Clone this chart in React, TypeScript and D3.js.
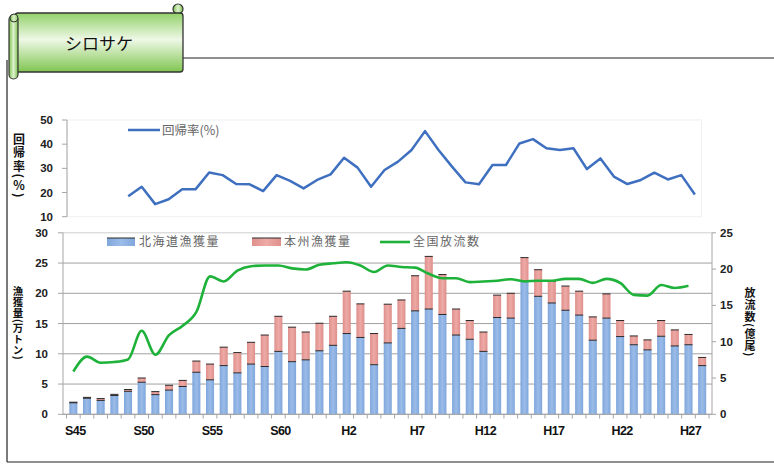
import React from "react";
import * as d3 from "d3";

// Fiscal years on the category axis (S45 = 1970 … H28 = 2016)
const years = [
  1970, 1971, 1972, 1973, 1974, 1975, 1976, 1977, 1978, 1979,
  1980, 1981, 1982, 1983, 1984, 1985, 1986, 1987, 1988, 1989,
  1990, 1991, 1992, 1993, 1994, 1995, 1996, 1997, 1998, 1999,
  2000, 2001, 2002, 2003, 2004, 2005, 2006, 2007, 2008, 2009,
  2010, 2011, 2012, 2013, 2014, 2015, 2016,
];
const tickYears = [1970, 1975, 1980, 1985, 1990, 1995, 2000, 2005, 2010, 2015];
const tickLabels = ["S45", "S50", "S55", "S60", "H2", "H7", "H12", "H17", "H22", "H27"];

// 北海道漁獲量 (万トン)
const hokkaido = [
  1.9, 2.65, 2.3, 3.1, 3.8, 5.3, 3.25, 4.0, 4.6, 6.95,
  5.7, 8.05, 6.85, 8.3, 7.9, 10.4, 8.7, 9.0, 10.5, 11.4,
  13.35, 12.7, 8.2, 11.8, 14.2, 17.1, 17.4, 16.5, 13.1, 12.4,
  10.4, 16.0, 15.9, 22.0, 19.5, 18.4, 17.2, 16.4, 12.25, 15.9,
  12.85, 11.5, 10.65, 12.9, 11.3, 11.5, 8.05,
];
// 本州漁獲量 (万トン)
const honshu = [
  0.1, 0.15, 0.3, 0.2, 0.3, 0.7, 0.5, 0.8, 1.0, 1.85,
  2.6, 3.05, 3.35, 3.6, 5.2, 5.8, 5.7, 4.6, 4.55, 4.8,
  7.0, 5.55, 5.15, 6.4, 4.7, 5.8, 8.7, 6.6, 4.3, 3.1,
  3.2, 3.7, 4.1, 3.9, 4.4, 3.6, 4.0, 3.95, 3.85, 4.0,
  2.65, 1.45, 1.65, 2.6, 2.65, 1.7, 1.35,
];
// 全国放流数 (億尾), 1970–2015
const release = [
  5.9, 7.95, 7.1, 7.2, 7.55, 11.5, 8.2, 10.9, 12.2, 14.1,
  19.0, 18.3, 19.8, 20.4, 20.5, 20.5, 20.1, 19.95, 20.6, 20.8,
  20.95, 20.5, 19.6, 20.5, 20.3, 20.2, 19.35, 18.75, 18.75, 18.2,
  18.3, 18.4, 18.6, 18.3, 18.4, 18.4, 18.65, 18.65, 18.1, 18.65,
  18.1, 16.45, 16.35, 17.8, 17.4, 17.7,
];
// 回帰率 (%), 1974–2016
const returnYears = [
  1974, 1975, 1976, 1977, 1978, 1979, 1980, 1981, 1982, 1983,
  1984, 1985, 1986, 1987, 1988, 1989, 1990, 1991, 1992, 1993,
  1994, 1995, 1996, 1997, 1998, 1999, 2000, 2001, 2002, 2003,
  2004, 2005, 2006, 2007, 2008, 2009, 2010, 2011, 2012, 2013,
  2014, 2015, 2016,
];
const returnRate = [
  18.5, 22.4, 15.2, 17.2, 21.4, 21.4, 28.3, 27.2, 23.5, 23.4,
  20.6, 27.2, 24.8, 21.7, 25.2, 27.5, 34.4, 30.3, 22.4, 29.3,
  32.8, 37.6, 45.4, 37.6, 30.7, 24.2, 23.4, 31.4, 31.4, 40.3,
  42.1, 38.3, 37.6, 38.3, 29.7, 34.1, 26.6, 23.5, 25.2, 28.2,
  25.4, 27.2, 19.2,
];
const leftTicks = [0, 5, 10, 15, 20, 25, 30];
const rightTicks = [0, 5, 10, 15, 20, 25];
const topTicks = [10, 20, 30, 40, 50];

const W = 774;
const H = 466;
const JP = "'Noto Sans CJK JP', 'Noto Sans', sans-serif";
const NUM = "'Liberation Sans', Arial, sans-serif";
const AXIS = "#a6a6a6";
const BLUE_LINE = "#3f70c0";
const GREEN = "#1fb23a";

// Vertical (top-to-bottom) axis title
function VerticalTitle({
  label,
  x,
  top,
  size,
  spacing,
}: {
  label: string;
  x: number;
  top: number;
  size: number;
  spacing: number;
}) {
  return (
    <text
      x={x}
      y={top}
      textAnchor="start"
      fontFamily={JP}
      fontWeight="bold"
      fontSize={size}
      fill="#111"
      style={{ writingMode: "vertical-rl", letterSpacing: `${spacing}px` }}
    >
      {label}
    </text>
  );
}

export default function App() {
  // lower chart scales
  const x = d3.scaleBand<number>().domain(years).range([66.5, 709]).paddingInner(0.41).paddingOuter(0.205);
  const yL = d3.scaleLinear().domain([0, 30]).range([414.3, 232.8]);
  const yR = d3.scaleLinear().domain([0, 25]).range([414.3, 232.8]);
  // upper chart scales
  const xT = d3.scaleBand<number>().domain(years).range([67.5, 701.6]);
  const yT = d3.scaleLinear().domain([10, 50]).range([216.7, 120]);

  const cx = (yr: number) => (x(yr) ?? 0) + x.bandwidth() / 2;
  const cxT = (yr: number) => (xT(yr) ?? 0) + xT.bandwidth() / 2;

  const releaseLine = d3
    .line<number>()
    .x((_, i) => cx(years[i]))
    .y((d) => yR(d))
    .curve(d3.curveMonotoneX)(release) ?? "";
  const returnLine = d3
    .line<number>()
    .x((_, i) => cxT(returnYears[i]))
    .y((d) => yT(d))(returnRate) ?? "";

  const xL = 63;
  const xRgt = 712;
  const boundaries = d3.range(years.length + 1).map((i) => x.range()[0] + i * x.step());

  return (
    <svg
      width={W}
      height={H}
      viewBox={`0 0 ${W} ${H}`}
      style={{ position: "absolute", left: 0, top: 0, background: "#fff" }}
    >
      <defs>
        <linearGradient id="banner" x1="0" y1="0" x2="0" y2="1">
          <stop offset="0" stopColor="#93d16a" />
          <stop offset="0.45" stopColor="#eef8e6" />
          <stop offset="1" stopColor="#80c550" />
        </linearGradient>
        <linearGradient id="roll" x1="0" y1="0" x2="1" y2="0">
          <stop offset="0" stopColor="#7cc24c" />
          <stop offset="0.5" stopColor="#dff2d0" />
          <stop offset="1" stopColor="#7cc24c" />
        </linearGradient>
        <linearGradient id="barBlue" x1="0" y1="0" x2="1" y2="0">
          <stop offset="0" stopColor="#7fa6dc" />
          <stop offset="0.5" stopColor="#9bbce8" />
          <stop offset="1" stopColor="#7fa6dc" />
        </linearGradient>
        <linearGradient id="barPink" x1="0" y1="0" x2="1" y2="0">
          <stop offset="0" stopColor="#de8f8b" />
          <stop offset="0.5" stopColor="#eeaaa6" />
          <stop offset="1" stopColor="#de8f8b" />
        </linearGradient>
      </defs>

      {/* page frame */}
      <line x1={183} y1={58} x2={W} y2={58} stroke="#222" strokeWidth={1.2} />
      <line x1={7} y1={60} x2={7} y2={462} stroke="#222" strokeWidth={1.2} />
      <line x1={7} y1={462} x2={W} y2={462} stroke="#222" strokeWidth={1.2} />

      {/* title scroll */}
      <circle cx={178} cy={9} r={5} fill="url(#roll)" stroke="#333" strokeWidth={1.2} />
      <rect x={15} y={13} width={168} height={59} rx={3} fill="url(#banner)" stroke="#333" strokeWidth={1.3} />
      <rect x={9} y={15} width={9} height={64} rx={4.5} fill="url(#roll)" stroke="#333" strokeWidth={1.2} />
      <circle cx={14} cy={18} r={4} fill="url(#roll)" stroke="#333" strokeWidth={1} />
      <text x={99} y={50} textAnchor="middle" fontFamily={JP} fontSize={17} fill="#111">
        シロサケ
      </text>

      {/* ===== upper chart: 回帰率 ===== */}
      <rect x={67} y={120} width={634.6} height={96.7} fill="none" stroke="#f0f0f0" strokeWidth={1} />
      <line x1={67} y1={120} x2={67} y2={216.7} stroke={AXIS} strokeWidth={1} />
      {topTicks.map((t) => (
        <g key={t}>
          <line x1={62} y1={yT(t)} x2={67} y2={yT(t)} stroke={AXIS} />
          <text x={53} y={yT(t) + 4} textAnchor="end" fontFamily={NUM} fontWeight="bold" fontSize={11.5} fill="#222">
            {t}
          </text>
        </g>
      ))}
      <path d={returnLine} fill="none" stroke={BLUE_LINE} strokeWidth={2.5} strokeLinejoin="round" />
      <line x1={128} y1={130} x2={160} y2={130} stroke={BLUE_LINE} strokeWidth={2.5} />
      <text x={162} y={134.5} fontFamily={JP} fontSize={12.5} fill="#666">
        回帰率(%)
      </text>
      <VerticalTitle label="回帰率(％)" x={19} top={133} size={12} spacing={1.5} />

      {/* ===== lower chart: 漁獲量 & 放流数 ===== */}
      {leftTicks.map((t) => (
        <line
          key={t}
          x1={xL}
          y1={yL(t)}
          x2={xRgt}
          y2={yL(t)}
          stroke={t === 30 ? "#cfcfcf" : "#a0a0a0"}
          strokeWidth={1}
        />
      ))}

      {years.map((yr, i) => {
        const bx = x(yr) ?? 0;
        const bw = x.bandwidth();
        const h0 = yL(0);
        const h1 = yL(hokkaido[i]);
        const h2 = yL(hokkaido[i] + honshu[i]);
        return (
          <g key={yr}>
            <rect x={bx} y={h1} width={bw} height={h0 - h1} fill="url(#barBlue)" />
            <rect x={bx} y={h2} width={bw} height={h1 - h2} fill="url(#barPink)" />
            <line x1={bx} y1={h1} x2={bx + bw} y2={h1} stroke="#2a2a2a" strokeWidth={1} />
            <line x1={bx} y1={h2} x2={bx + bw} y2={h2} stroke="#2a2a2a" strokeWidth={1} />
          </g>
        );
      })}

      <path d={releaseLine} fill="none" stroke={GREEN} strokeWidth={2.6} strokeLinejoin="round" />

      {/* axes */}
      <line x1={xL} y1={232.8} x2={xL} y2={414.3} stroke={AXIS} />
      <line x1={xRgt} y1={232.8} x2={xRgt} y2={414.3} stroke={AXIS} />
      <line x1={xL} y1={414.3} x2={xRgt} y2={414.3} stroke={AXIS} />
      {boundaries.map((bx, i) => (
        <line key={i} x1={bx} y1={414.3} x2={bx} y2={418.5} stroke={AXIS} />
      ))}
      {leftTicks.map((t) => (
        <g key={t}>
          <line x1={58} y1={yL(t)} x2={xL} y2={yL(t)} stroke={AXIS} />
          <text x={48} y={yL(t) + 4} textAnchor="end" fontFamily={NUM} fontWeight="bold" fontSize={11.5} fill="#222">
            {t}
          </text>
        </g>
      ))}
      {rightTicks.map((t) => (
        <g key={t}>
          <line x1={xRgt} y1={yR(t)} x2={xRgt + 4} y2={yR(t)} stroke={AXIS} />
          <text x={720} y={yR(t) + 4} textAnchor="start" fontFamily={NUM} fontWeight="bold" fontSize={11.5} fill="#222">
            {t}
          </text>
        </g>
      ))}
      {tickYears.map((yr, i) => (
        <text
          key={yr}
          x={cx(yr) + 2}
          y={435}
          textAnchor="middle"
          fontFamily={NUM}
          fontWeight="bold"
          fontSize={12.5}
          letterSpacing={-0.6}
          fill="#111"
        >
          {tickLabels[i]}
        </text>
      ))}

      <VerticalTitle label="漁獲量(万トン)" x={18} top={286} size={10.5} spacing={0.4} />
      <VerticalTitle label="放流数(億尾)" x={750} top={287} size={11} spacing={1} />

      {/* legend */}
      <rect x={107} y={238} width={28} height={8} fill="url(#barBlue)" />
      <line x1={107} y1={238} x2={135} y2={238} stroke="#2a2a2a" />
      <text x={139} y={246} fontFamily={JP} fontSize={12} fill="#666" letterSpacing={1.5}>
        北海道漁獲量
      </text>
      <rect x={252} y={238} width={29} height={8} fill="url(#barPink)" />
      <line x1={252} y1={238} x2={281} y2={238} stroke="#2a2a2a" />
      <text x={284} y={246} fontFamily={JP} fontSize={12} fill="#666" letterSpacing={1.5}>
        本州漁獲量
      </text>
      <line x1={380} y1={242} x2={410} y2={242} stroke={GREEN} strokeWidth={2.6} />
      <text x={413} y={246} fontFamily={JP} fontSize={12} fill="#666" letterSpacing={1.5}>
        全国放流数
      </text>
    </svg>
  );
}
